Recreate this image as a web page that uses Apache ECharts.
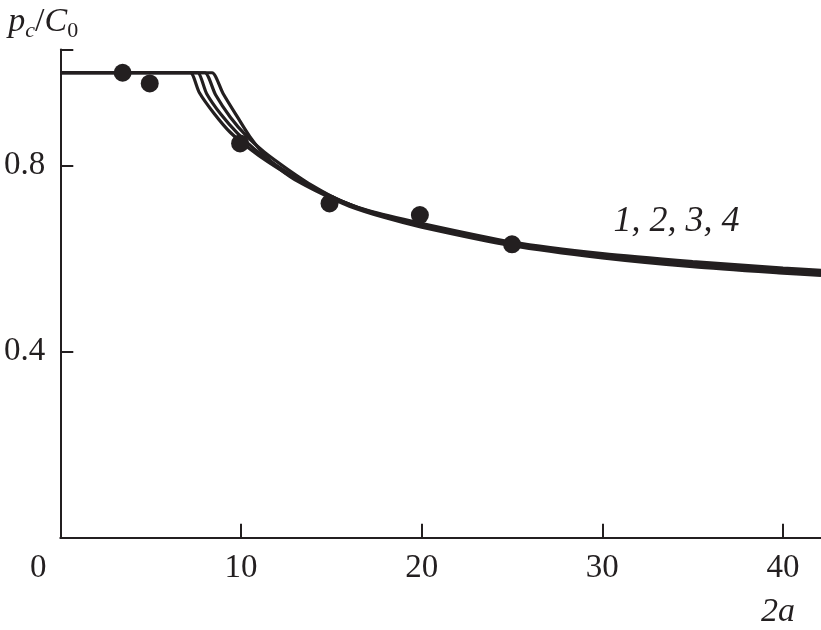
<!DOCTYPE html>
<html>
<head>
<meta charset="utf-8">
<script src="https://cdn.jsdelivr.net/npm/echarts@6/dist/echarts.min.js"></script>
<style>
  html, body { margin: 0; padding: 0; background: #ffffff; }
  #chart { width: 821px; height: 630px; }
</style>
</head>
<body>
<div id="chart"></div>
<script>
// ---- data ----
const xTicks = [0, 10, 20, 30, 40];
const yTicks = [0.4, 0.8];

const curve1 = [[0,1],[6.8,1],[7.2,1],[7.7,0.957],[8.5,0.913],[9.4,0.872],[10.5,0.836],[11.5,0.808],[13,0.772],[15,0.733],[17,0.704],[20,0.676],[25,0.636],[30,0.611],[35,0.594],[40,0.580],[42.1,0.575]];
const curve2 = [[0,1],[7.2,1],[7.6,1],[8.1,0.955],[8.9,0.910],[9.8,0.870],[10.8,0.834],[12,0.800],[13.5,0.764],[15,0.734],[17,0.703],[20,0.674],[25,0.634],[30,0.608],[35,0.590],[40,0.576],[42.1,0.571]];
const curve3 = [[0,1],[7.6,1],[8.0,1],[8.6,0.952],[9.4,0.905],[10.3,0.864],[11.3,0.829],[12.6,0.792],[14,0.756],[15.5,0.725],[17.5,0.696],[20,0.671],[25,0.631],[30,0.605],[35,0.587],[40,0.573],[42.1,0.568]];
const curve4 = [[0,1],[8.0,1],[8.4,1],[9.0,0.956],[9.8,0.905],[10.5,0.862],[11.4,0.819],[12.7,0.777],[14.4,0.741],[16,0.713],[18,0.688],[20,0.668],[25,0.628],[30,0.602],[35,0.583],[40,0.569],[42.1,0.564]];
const experiment = [[3.45,1.0],[4.95,0.977],[9.95,0.848],[14.9,0.719],[19.9,0.694],[25.0,0.631]];

const curveLabel = '1, 2, 3, 4';
const curveLabelAt = [34.1, 0.679];

// ---- styling ----
const INK = '#231f20';
const FONT = "'Liberation Serif', 'Times New Roman', serif";

const chart = echarts.init(document.getElementById('chart'), null, { renderer: 'canvas' });

function lineSeries(name, data) {
  return {
    name: name,
    type: 'line',
    data: data,
    smooth: 0.25,
    symbol: 'none',
    lineStyle: { color: INK, width: 3.2 },
    z: 2,
    animation: false
  };
}

const option = {
  backgroundColor: '#ffffff',
  animation: false,
  grid: { left: 60.3, right: 0, top: 49.5, bottom: 92.3, containLabel: false, outerBoundsMode: 'none' },
  xAxis: {
    type: 'value',
    min: xTicks[0],
    max: 42.1,
    interval: 10,
    name: '2a',
    nameLocation: 'end',
    nameGap: -43,
    nameTextStyle: {
      fontFamily: FONT, fontSize: 34, fontStyle: 'italic', color: INK,
      align: 'center', verticalAlign: 'top', padding: [57, 0, 0, 0]
    },
    axisLine: { show: true, onZero: false, lineStyle: { color: INK, width: 2 } },
    axisTick: { show: true, inside: true, length: 14, lineStyle: { color: INK, width: 2 } },
    axisLabel: {
      margin: 14,
      color: INK, fontFamily: FONT, fontSize: 33,
      formatter: function (v) { return v === 0 ? '{o|0}' : String(v); },
      rich: { o: { fontFamily: FONT, fontSize: 33, color: INK, padding: [0, 44, 0, 0] } }
    },
    splitLine: { show: false }
  },
  yAxis: {
    type: 'value',
    min: 0,
    max: 1.05,
    interval: 0.4,
    name: '{p|p}{s|c}{d|/}{C|C}{z|0}',
    nameLocation: 'end',
    nameGap: 7,
    nameTextStyle: {
      align: 'center', padding: [0, 34, 0, 0],
      rich: {
        p: { fontFamily: FONT, fontSize: 34, fontStyle: 'italic', color: INK, lineHeight: 40 },
        s: { fontFamily: FONT, fontSize: 22, fontStyle: 'italic', color: INK, lineHeight: 22, padding: [20, 0, 0, 0], verticalAlign: 'bottom' },
        d: { fontFamily: FONT, fontSize: 34, color: INK, lineHeight: 40 },
        C: { fontFamily: FONT, fontSize: 34, fontStyle: 'italic', color: INK, lineHeight: 40 },
        z: { fontFamily: FONT, fontSize: 22, color: INK, lineHeight: 22, padding: [20, 0, 0, 0], verticalAlign: 'bottom' }
      }
    },
    axisLine: { show: true, lineStyle: { color: INK, width: 2 } },
    axisTick: { show: true, inside: true, length: 13, lineStyle: { color: INK, width: 2 } },
    axisLabel: {
      margin: 15,
      color: INK, fontFamily: FONT, fontSize: 33,
      formatter: function (v) { return yTicks.indexOf(Math.round(v * 10) / 10) >= 0 ? v.toFixed(1) : ''; }
    },
    splitLine: { show: false }
  },
  series: [
    lineSeries('1', curve1),
    lineSeries('2', curve2),
    lineSeries('3', curve3),
    lineSeries('4', curve4),
    {
      name: 'experiment',
      type: 'scatter',
      data: experiment,
      symbol: 'circle',
      symbolSize: 18,
      itemStyle: { color: INK, opacity: 1 },
      z: 3,
      animation: false
    }
  ]
};

chart.setOption(option);

const lp = chart.convertToPixel({ gridIndex: 0 }, curveLabelAt);
chart.setOption({
  graphic: [{
    type: 'text',
    x: lp[0],
    y: lp[1],
    style: {
      text: curveLabel,
      fontFamily: FONT, fontSize: 36, fontStyle: 'italic',
      fill: INK, align: 'center', verticalAlign: 'middle'
    }
  }]
});
</script>
</body>
</html>
